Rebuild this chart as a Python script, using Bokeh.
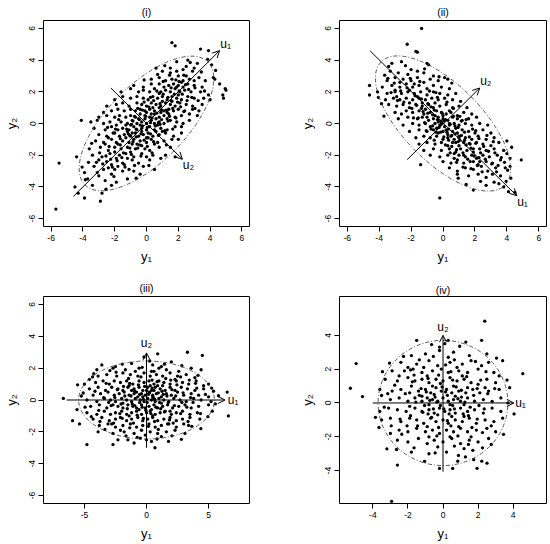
from bokeh.plotting import figure
from bokeh.layouts import gridplot
from bokeh.models import FixedTicker, Arrow, OpenHead
from bokeh.core.properties import value
from bokeh.embed import file_html
from bokeh.resources import INLINE

FONT = "Liberation Sans"

# ---------------- data ----------------
pts_i = [
(-4.5,-4.0),(-4.3,-4.4),(-3.9,-4.7),(-2.9,-4.9),(-2.8,-4.4),(-5.7,-5.4),(-2.2,-3.9),(-3.4,-3.9),
(-3.7,-3.5),(-2.6,-3.6),(-1.9,-3.7),(-1.2,-3.5),(-3.0,-3.3),
(-3.1,-3.1),(-2.2,-3.2),(-1.5,-3.0),(-0.8,-3.0),(-3.9,-3.1),(-2.7,-2.9),(-0.4,-3.2),
(-2.4,-2.8),(-1.8,-2.7),(-1.1,-2.9),(-3.3,-2.7),(-0.2,-2.7),(-2.0,-2.9),(0.5,-2.9),(-1.4,-2.6),
(-4.4,-2.1),(-5.5,-2.5),(-3.0,-2.3),(-2.5,-2.4),(-1.9,-2.2),(-1.5,-2.5),(-0.9,-2.3),(-0.5,-2.5),(0.2,-2.3),(0.9,-2.2),(-2.2,-2.6),(-1.2,-2.2),
(-3.4,-2.0),(-2.8,-2.1),(-2.3,-1.9),(-1.7,-2.0),(-1.3,-1.9),(-0.8,-2.1),(-0.3,-1.9),(0.4,-2.0),(1.2,-2.0),(1.8,-2.1),(-2.0,-1.8),(-1.0,-1.8),(0.0,-2.1),
(-3.6,-1.6),(-2.9,-1.5),(-2.4,-1.7),(-2.0,-1.5),(-1.6,-1.6),(-1.2,-1.5),(-0.7,-1.6),(-0.3,-1.4),(0.2,-1.7),(0.8,-1.5),(1.5,-1.5),(-1.8,-1.3),(-0.9,-1.3),(-0.1,-1.6),(0.5,-1.3),(-2.6,-1.3),
(-3.2,-1.1),(-2.7,-1.2),(-2.2,-1.0),(-1.9,-1.2),(-1.5,-1.1),(-1.1,-1.2),(-0.8,-1.0),(-0.4,-1.1),(0.0,-1.2),(0.3,-1.0),(0.7,-1.2),(1.1,-1.1),(1.6,-1.0),(2.0,-1.0),(-1.3,-0.9),(-0.6,-1.3),(0.1,-0.9),(-2.4,-0.9),
(-3.0,-0.7),(-2.5,-0.8),(-2.1,-0.6),(-1.7,-0.8),(-1.4,-0.7),(-1.0,-0.8),(-0.7,-0.6),(-0.5,-0.8),(-0.2,-0.7),(0.1,-0.6),(0.4,-0.8),(0.8,-0.7),(1.2,-0.6),(1.7,-0.8),(2.2,-0.6),(-1.2,-0.5),(-0.3,-0.5),(0.6,-0.5),(-0.9,-0.6),(0.0,-0.9),
(-3.3,-0.3),(-2.6,-0.4),(-2.2,-0.2),(-1.8,-0.4),(-1.5,-0.3),(-1.1,-0.4),(-0.8,-0.2),(-0.6,-0.4),(-0.3,-0.3),(0.0,-0.4),(0.2,-0.2),(0.5,-0.4),(0.9,-0.3),(1.3,-0.4),(1.8,-0.2),(2.2,-0.2),(-1.3,-0.1),(-0.4,-0.1),(0.7,-0.1),(1.0,-0.5),(-2.0,-0.6),
(-4.1,0.2),(-3.5,0.1),(-3.1,0.2),(-2.7,0.0),(-2.3,0.1),(-1.9,-0.1),(-1.6,0.1),(-1.2,0.0),(-0.9,0.2),(-0.6,0.0),(-0.3,0.1),(0.0,0.0),(0.3,0.2),(0.5,0.0),(0.8,0.1),(1.1,0.0),(1.5,0.2),(1.9,0.1),(2.3,0.0),(2.7,0.2),(-0.1,0.3),(0.6,0.3),(1.3,0.3),(-1.0,-0.1),
(-3.0,0.4),(-2.5,0.5),(-2.0,0.4),(-1.7,0.5),(-1.3,0.4),(-1.0,0.5),(-0.7,0.4),(-0.4,0.6),(-0.1,0.5),(0.2,0.4),(0.5,0.6),(0.8,0.4),(1.1,0.5),(1.4,0.6),(1.8,0.4),(2.2,0.5),(2.7,0.6),(3.2,0.5),(0.0,0.7),(0.9,0.7),(-0.5,0.3),
(-2.7,0.7),(-2.2,0.8),(-1.8,0.9),(-1.4,0.8),(-1.0,0.9),(-0.7,0.8),(-0.4,0.9),(-0.1,0.8),(0.2,0.9),(0.5,0.8),(0.8,1.0),(1.1,0.8),(1.4,0.9),(1.7,0.8),(2.0,0.9),(2.4,0.8),(2.9,0.9),(3.3,0.8),(0.3,0.6),(1.3,0.7),
(-2.5,1.1),(-1.9,1.2),(-1.5,1.3),(-1.1,1.1),(-0.6,1.3),(-0.3,1.2),(0.0,1.1),(0.3,1.3),(0.6,1.2),(0.9,1.1),(1.2,1.3),(1.5,1.2),(1.8,1.1),(2.1,1.3),(2.5,1.2),(2.9,1.1),(3.5,1.2),(0.4,1.0),(1.0,1.4),(1.6,1.4),
(-2.0,1.5),(-1.5,1.7),(-1.0,1.6),(-0.6,1.7),(-0.2,1.6),(0.1,1.5),(0.4,1.7),(0.7,1.6),(1.0,1.7),(1.3,1.5),(1.6,1.7),(1.9,1.6),(2.2,1.5),(2.6,1.7),(3.0,1.6),(3.6,1.6),(4.0,1.5),(2.0,1.8),(0.8,1.9),
(-1.6,2.0),(-1.0,2.2),(-0.5,2.0),(-0.2,2.1),(0.2,2.0),(0.5,2.2),(0.9,2.0),(1.2,2.1),(1.5,2.0),(1.8,2.2),(2.1,2.0),(2.4,2.1),(2.8,2.0),(3.4,2.0),(3.9,1.8),(4.85,1.6),(4.8,1.8),(1.9,2.3),
(-0.8,2.4),(-0.2,2.3),(0.3,2.5),(0.8,2.5),(1.1,2.3),(1.4,2.4),(1.7,2.5),(2.0,2.4),(2.3,2.3),(2.6,2.5),(3.0,2.4),(3.5,2.3),(4.95,2.2),(5.0,2.1),(4.6,2.5),(2.2,2.6),
(0.3,2.8),(0.8,2.9),(1.2,2.7),(1.6,2.8),(2.0,3.0),(2.3,2.7),(2.7,2.8),(3.0,2.7),(3.3,2.9),(3.7,2.7),(4.2,2.9),(4.3,2.8),(2.5,3.0),
(0.7,3.1),(1.0,3.3),(1.5,3.2),(1.9,3.3),(2.3,3.4),(2.9,3.3),(3.0,3.5),(0.6,3.5),(1.5,3.5),(2.5,3.6),
(3.2,3.8),(4.1,3.7),(1.9,3.9),(3.4,4.7),(3.9,4.6),(1.6,5.1),(1.8,4.9),(2.6,4.0),
]
pts_i_core = [
(-2.35,-1.45),(-1.85,-2.35),(-1.65,-0.95),(-1.45,-1.85),(-1.25,-0.35),(-1.05,-1.55),(-0.95,-0.05),(-0.85,-1.15),(-0.75,0.45),(-0.65,-0.85),
(-0.55,-1.55),(-0.45,0.25),(-0.35,-0.65),(-0.25,0.85),(-0.15,-1.05),(-0.05,0.45),(0.05,-0.25),(0.15,1.05),(0.25,-0.65),(0.35,0.35),
(0.45,1.45),(0.55,-0.15),(0.65,0.65),(0.75,-0.75),(0.85,1.25),(0.95,0.25),(1.05,1.85),(1.15,-0.45),(1.25,0.85),(1.35,1.65),
(1.45,0.45),(1.55,2.25),(1.65,0.95),(1.75,1.85),(1.85,0.35),(1.95,1.35),(2.05,2.65),(2.15,1.05),(2.25,1.85),(2.35,0.75),
(2.45,2.45),(2.55,1.45),(2.65,2.15),(2.85,1.65),(3.05,2.25),(3.25,1.45),(-2.55,-2.05),(-2.75,-2.55),(-2.95,-1.85),(-3.15,-2.45),
(-2.15,-2.75),(-1.95,-0.35),(-1.55,-2.15),(-1.35,-2.75),(-1.15,-0.65),(-0.95,-1.95),(-0.75,-2.65),(-0.55,0.95),(-0.35,-2.05),(-0.15,1.35),
(0.05,-1.45),(0.25,1.65),(0.45,-1.15),(0.65,2.05),(0.85,-0.05),(1.05,2.65),(1.25,-1.35),(1.45,3.05),(1.65,-0.35),(1.85,2.75),
(-3.45,-1.25),(-3.65,-2.45),(-2.05,-3.35),(-0.65,-3.45),(2.35,3.05),(3.45,3.25),(3.65,2.05),(3.05,0.95),(-1.75,0.25),(-2.45,-0.25),
(0.15,-2.65),(-0.15,2.75),(1.15,3.65),(2.75,3.85),(-4.05,-2.75),(-3.85,-3.55),(-2.55,-4.15),(4.35,3.35),(3.85,4.05),(0.35,-1.85),
(-0.45,-1.35),(0.75,0.05),(-0.85,0.15),(1.35,0.15),(-1.65,-1.35),(-2.25,-2.25),(2.05,2.05),(1.55,1.45),(0.95,0.85),(0.25,0.05),
(-0.25,-0.15),(-0.65,-0.35),(-1.05,-0.75),
]

pts_ii = [
(-1.34,6.0),(-2.24,5.0),(-1.7,4.55),(-1.6,4.5),(-3.2,3.8),(-1.0,3.8),(-0.9,3.7),(-2.6,3.9),(-3.4,3.6),
(-3.3,3.3),(-2.8,3.2),(-2.2,3.1),(-1.6,3.3),(-1.2,3.2),(-0.6,3.0),(-2.0,3.4),(0.1,2.9),
(-3.5,2.7),(-3.0,2.9),(-2.5,2.8),(-2.0,2.7),(-1.6,2.9),(-1.2,2.6),(-0.8,2.8),(-0.3,2.7),(0.3,2.8),(-1.8,2.5),(-2.7,2.6),
(-4.6,2.4),(-3.8,2.3),(-3.2,2.4),(-2.7,2.3),(-2.3,2.5),(-1.9,2.3),(-1.5,2.4),(-1.0,2.2),(-0.6,2.4),(-0.1,2.3),(0.4,2.2),(-3.0,2.1),(-2.1,2.1),
(-4.1,2.0),(-3.5,1.9),(-3.0,2.0),(-2.6,1.9),(-2.2,2.0),(-1.8,1.9),(-1.4,2.0),(-1.0,1.8),(-0.6,2.0),(-0.2,1.9),(0.3,1.8),(0.8,1.9),(-1.6,1.7),(-2.9,1.7),
(-4.6,1.8),(-3.6,1.5),(-3.1,1.6),(-2.7,1.5),(-2.3,1.6),(-1.9,1.5),(-1.5,1.6),(-1.1,1.5),(-0.7,1.6),(-0.3,1.5),(0.1,1.6),(0.6,1.5),(1.1,1.4),(-1.3,1.3),(-2.1,1.3),(-0.5,1.3),
(-3.4,1.2),(-2.9,1.1),(-2.5,1.2),(-2.1,1.0),(-1.7,1.2),(-1.3,1.1),(-0.9,1.2),(-0.6,1.0),(-0.2,1.1),(0.2,1.2),(0.6,1.0),(1.0,1.1),(1.5,1.0),(-1.1,0.9),(-0.4,0.8),(0.4,0.8),(-2.3,0.8),
(-3.0,0.7),(-2.6,0.6),(-1.9,0.7),(-1.5,0.8),(-1.2,0.6),(-0.8,0.7),(-0.5,0.5),(-0.1,0.7),(0.2,0.6),(0.5,0.7),(0.9,0.5),(1.3,0.7),(1.8,0.6),(-0.3,0.4),(0.0,0.5),(-1.0,0.4),
(-3.7,0.46),(-2.8,0.3),(-2.2,0.4),(-1.6,0.3),(-1.3,0.4),(-0.9,0.2),(-0.6,0.3),(-0.3,0.1),(0.0,0.3),(0.3,0.2),(0.6,0.4),(0.9,0.3),(1.2,0.2),(1.6,0.3),(2.1,0.4),(0.4,0.0),(-0.1,0.0),
(-2.5,-0.1),(-1.9,0.0),(-1.5,-0.1),(-1.1,0.0),(-0.8,-0.2),(-0.5,0.0),(-0.2,-0.1),(0.1,-0.2),(0.4,-0.1),(0.7,0.0),(1.0,-0.1),(1.4,0.0),(1.8,-0.1),(2.3,0.0),(2.8,-0.1),(0.2,-0.4),(0.8,-0.3),(-0.4,-0.3),
(-2.1,-0.5),(-1.5,-0.4),(-1.0,-0.5),(-0.6,-0.4),(-0.3,-0.6),(0.0,-0.5),(0.3,-0.7),(0.6,-0.5),(0.9,-0.6),(1.2,-0.4),(1.6,-0.5),(2.0,-0.6),(2.5,-0.4),(3.0,-0.6),(0.5,-0.8),(1.0,-0.9),
(-1.7,-0.9),(-1.2,-0.8),(-0.8,-0.9),(-0.4,-0.8),(0.0,-1.0),(0.3,-0.9),(0.7,-1.0),(1.0,-0.8),(1.4,-0.9),(1.8,-1.0),(2.2,-0.8),(2.7,-1.0),(3.2,-0.9),(4.0,-1.1),(0.8,-1.2),
(-1.5,-1.3),(-1.0,-1.2),(-0.5,-1.3),(-0.1,-1.2),(0.3,-1.4),(0.6,-1.2),(1.0,-1.4),(1.3,-1.2),(1.7,-1.3),(2.1,-1.2),(2.5,-1.3),(3.0,-1.4),(3.5,-1.2),(4.3,-1.5),(1.9,-1.6),
(-1.2,-1.7),(-0.6,-1.6),(-0.1,-1.7),(0.4,-1.6),(0.8,-1.8),(1.1,-1.6),(1.5,-1.7),(1.9,-1.8),(2.3,-1.6),(2.7,-1.7),(3.2,-1.6),(3.8,-1.7),(0.7,-1.9),(1.3,-2.0),
(-0.8,-2.0),(-0.2,-2.1),(0.3,-2.0),(0.7,-2.2),(1.0,-2.0),(1.4,-2.1),(1.8,-2.0),(2.1,-2.2),(2.5,-2.0),(2.9,-2.1),(3.4,-2.0),(4.0,-1.9),(1.9,-2.4),(2.3,-2.4),
(-1.4,-2.6),(0.0,-2.4),(0.5,-2.5),(0.9,-2.3),(1.3,-2.5),(1.7,-2.4),(2.2,-2.6),(2.7,-2.4),(3.1,-2.5),(3.6,-2.3),(4.9,-2.3),(4.2,-2.2),
(0.4,-2.8),(0.9,-3.0),(1.4,-2.8),(1.9,-2.9),(2.4,-2.7),(2.8,-3.0),(3.3,-2.8),(3.9,-2.8),(4.2,-2.7),
(0.9,-3.2),(1.6,-3.3),(2.2,-3.2),(2.7,-3.4),(3.1,-3.2),(3.6,-3.3),(3.2,-3.7),
(1.9,-4.2),(3.8,-4.0),(4.5,-4.35),(3.5,-3.8),(2.7,-3.9),(-0.2,-4.7),(4.1,-4.3),
]
pts_ii_core = [
(-2.45,1.35),(-2.25,2.25),(-1.95,0.95),(-1.75,1.75),(-1.55,0.35),(-1.35,1.55),(-1.15,0.05),(-0.95,1.25),(-0.75,-0.35),(-0.55,0.85),
(-0.35,1.65),(-0.25,-0.25),(-0.05,0.65),(0.05,-0.85),(0.15,0.25),(0.35,-1.05),(0.45,-0.05),(0.55,-1.45),(0.65,0.45),(0.75,-0.65),
(0.85,-1.65),(0.95,-0.25),(1.05,-1.05),(1.15,0.15),(1.25,-1.85),(1.35,-0.55),(1.45,-1.35),(1.55,-2.25),(1.65,-0.85),(1.75,-1.55),
(1.85,-0.35),(1.95,-2.05),(2.05,-1.25),(2.15,-2.65),(2.25,-0.95),(2.35,-1.85),(2.55,-1.45),(2.65,-2.25),(2.85,-1.75),(3.05,-2.55),
(3.25,-1.85),(3.45,-2.65),(3.65,-2.15),(-2.65,2.05),(-2.85,1.45),(-3.05,2.55),(-3.25,1.95),(-3.45,2.85),(-2.05,2.85),(-1.85,0.35),
(-1.45,2.65),(-1.25,0.75),(-0.85,2.05),(-0.65,-0.15),(-0.45,1.95),(-0.15,-0.55),(0.25,1.35),(0.45,-1.85),(0.65,0.95),(0.85,-2.45),
(1.05,0.45),(1.25,-2.75),(1.45,0.25),(1.75,-2.85),(2.05,-0.45),(2.45,-3.05),(2.75,-0.75),(3.15,-1.15),(3.35,-3.05),(3.85,-2.45),
(4.05,-2.95),(4.25,-3.45),(3.95,-3.65),(-3.85,1.25),(-3.65,3.05),(-4.05,1.65),(-2.35,3.65),(-1.15,3.45),(0.55,2.55),(-0.25,2.95),
(0.95,-3.45),(1.45,-3.85),(2.35,-3.65),(-0.55,-1.05),(-1.05,-0.45),(0.15,-1.35),(-0.95,0.65),(-0.35,0.25),(0.35,-0.35),(0.75,-0.15),
(-0.15,0.15),(0.55,-0.75),(-0.65,0.55),(-1.35,0.95),(1.15,-0.75),(0.95,-1.15),(-0.45,-0.55),(0.05,0.15),(-0.75,1.05),(0.25,-0.55),
(1.35,-1.05),(-1.65,1.15),(1.65,-1.25),(2.25,-2.15),
]

pts_iii = [
(0.9,2.9),(3.3,3.0),(4.5,2.8),(-0.2,2.7),
(-3.6,2.2),(-1.2,2.3),(0.5,2.2),(2.0,2.4),(-2.5,2.1),(1.2,2.1),
(-4.0,1.9),(-2.7,2.0),(-1.7,1.9),(-0.6,2.0),(0.4,1.8),(1.0,2.0),(1.6,1.9),(2.6,1.8),(3.6,2.0),(4.4,1.9),
(-4.6,1.3),(-4.35,1.45),(-3.9,1.5),(-3.2,1.6),(-2.4,1.5),(-1.9,1.7),(-1.3,1.6),(-0.7,1.5),(-0.2,1.7),(0.3,1.5),(0.8,1.6),(1.3,1.5),(1.9,1.7),(2.5,1.5),(3.2,1.6),(3.9,1.4),(-0.9,1.8),(0.6,1.8),(2.3,1.3),
(-5.0,1.0),(-4.1,1.1),(-3.5,1.2),(-3.0,1.0),(-2.6,1.2),(-2.1,1.1),(-1.6,1.2),(-1.1,1.0),(-0.6,1.2),(-0.2,1.1),(0.2,1.2),(0.6,1.0),(1.0,1.2),(1.4,1.1),(1.9,1.0),(2.4,1.2),(2.9,1.1),(3.4,1.0),(4.0,1.2),(5.0,1.0),(4.6,0.9),(-1.4,0.9),(0.9,0.9),
(-4.6,0.7),(-3.9,0.8),(-3.3,0.6),(-2.8,0.8),(-2.3,0.7),(-1.9,0.6),(-1.5,0.8),(-1.0,0.7),(-0.6,0.8),(-0.3,0.6),(0.1,0.8),(0.4,0.6),(0.7,0.8),(1.1,0.7),(1.5,0.6),(1.9,0.8),(2.3,0.6),(2.8,0.8),(3.3,0.7),(3.9,0.6),(4.6,0.7),(5.4,0.55),(0.3,0.9),(-0.8,0.5),(1.3,0.9),
(-5.1,0.44),(-4.3,0.3),(-3.7,0.4),(-3.1,0.5),(-2.6,0.3),(-2.2,0.4),(-1.8,0.5),(-1.4,0.3),(-1.0,0.4),(-0.7,0.2),(-0.4,0.4),(-0.1,0.3),(0.2,0.5),(0.5,0.3),(0.8,0.4),(1.2,0.2),(1.6,0.4),(2.0,0.3),(2.5,0.5),(3.0,0.3),(3.6,0.4),(4.2,0.3),(5.0,0.2),(5.8,0.27),(6.5,0.5),(0.0,0.6),(0.6,0.6),(-1.2,0.6),
(-6.7,0.1),(-4.8,0.0),(-4.0,-0.1),(-3.4,0.1),(-2.9,0.0),(-2.5,-0.1),(-2.0,0.1),(-1.6,0.0),(-1.2,-0.1),(-0.9,0.1),(-0.5,0.0),(-0.2,-0.1),(0.1,0.1),(0.4,0.0),(0.7,-0.1),(1.0,0.1),(1.4,0.0),(1.8,-0.1),(2.2,0.1),(2.7,0.0),(3.2,-0.1),(3.8,0.1),(4.4,0.0),(5.2,-0.1),(-0.3,0.2),(0.5,0.2),(-1.9,-0.2),(1.2,-0.2),
(-5.6,-0.6),(-4.5,-0.4),(-3.8,-0.3),(-3.2,-0.5),(-2.7,-0.3),(-2.3,-0.4),(-1.9,-0.5),(-1.5,-0.3),(-1.1,-0.4),(-0.8,-0.5),(-0.4,-0.3),(-0.1,-0.5),(0.2,-0.4),(0.6,-0.3),(0.9,-0.5),(1.3,-0.4),(1.7,-0.3),(2.1,-0.5),(2.6,-0.4),(3.1,-0.3),(3.6,-0.5),(4.2,-0.4),(5.0,-0.3),(0.4,-0.6),(-0.6,-0.6),(1.9,-0.7),
(-4.8,-0.8),(-4.0,-0.9),(-3.4,-0.7),(-2.9,-0.9),(-2.5,-0.8),(-2.0,-0.7),(-1.6,-0.9),(-1.2,-0.8),(-0.8,-0.7),(-0.4,-0.9),(0.0,-0.8),(0.3,-0.7),(0.7,-0.9),(1.1,-0.8),(1.5,-0.7),(2.0,-0.9),(2.4,-0.8),(2.9,-0.7),(3.5,-0.9),(4.1,-0.8),(5.3,-0.7),(-1.4,-1.0),(0.5,-1.0),
(-5.96,-1.3),(-4.3,-1.2),(-3.6,-1.1),(-3.0,-1.3),(-2.5,-1.2),(-2.1,-1.1),(-1.6,-1.3),(-1.2,-1.2),(-0.7,-1.1),(-0.3,-1.3),(0.1,-1.2),(0.5,-1.1),(0.9,-1.3),(1.4,-1.2),(1.9,-1.1),(2.4,-1.3),(2.9,-1.2),(3.5,-1.1),(4.3,-1.2),(6.6,-1.0),(-2.8,-1.5),(1.7,-1.5),
(-5.4,-1.5),(-3.8,-1.6),(-3.1,-1.5),(-2.5,-1.7),(-1.9,-1.6),(-1.3,-1.5),(-0.8,-1.7),(-0.3,-1.6),(0.2,-1.5),(0.7,-1.7),(1.2,-1.6),(1.8,-1.5),(2.4,-1.7),(3.39,-1.6),(4.38,-1.8),(3.0,-1.5),(-2.1,-1.9),
(-3.9,-2.0),(-2.7,-2.1),(-1.8,-2.0),(-1.0,-2.1),(-0.4,-1.9),(0.3,-2.0),(0.9,-2.1),(1.6,-2.0),(2.3,-1.9),(3.1,-2.1),(-0.1,-2.2),(1.2,-2.3),
(-4.8,-2.8),(-2.7,-2.8),(-2.3,-2.5),(-1.5,-2.5),(-0.5,-2.4),(0.0,-2.5),(0.68,-3.0),(1.77,-2.6),(2.81,-2.47),(-1.0,-2.7),(0.4,-2.6),
]
pts_iii_core = [
(-3.45,0.15),(-2.85,-0.35),(-2.35,0.65),(-2.15,-0.85),(-1.75,0.25),(-1.55,-0.55),(-1.35,1.05),(-1.15,-0.25),(-0.95,0.55),(-0.75,-0.95),
(-0.55,0.35),(-0.35,-0.45),(-0.15,0.85),(0.05,-0.15),(0.25,0.45),(0.35,-0.85),(0.55,0.15),(0.75,-0.45),(0.85,1.15),(1.05,-0.15),
(1.25,0.55),(1.45,-0.75),(1.65,0.25),(1.85,-1.25),(2.05,0.65),(2.25,-0.35),(2.45,0.95),(2.75,-0.85),(2.95,0.45),(3.25,-0.45),
(3.45,1.25),(3.75,-0.15),(4.05,0.75),(4.35,-0.85),(4.75,0.35),(-4.15,0.55),(-3.85,-0.65),(-3.25,1.05),(-2.65,-1.45),(-2.45,1.75),
(-1.95,-1.15),(-1.45,1.35),(-1.05,-1.45),(-0.45,1.45),(0.15,-1.65),(0.45,1.25),(0.95,-1.85),(1.55,1.35),(2.15,-1.45),(2.75,1.45),
(3.35,-1.35),(3.95,1.05),(-4.45,-1.05),(-5.25,0.25),(-4.95,-0.45),(5.55,-0.25),(4.95,-1.05),(-0.25,0.05),(0.15,0.35),(-0.55,-0.15),
(0.65,0.05),(-0.95,-0.35),(1.35,0.35),(-1.85,0.85),(1.15,-0.55),(-0.05,-0.65),(0.45,0.75),(-0.65,0.95),(0.95,0.45),(-1.25,0.25),
(1.75,-0.15),(-2.05,-0.25),(2.35,0.25),(-2.55,0.15),(2.85,-0.15),(-3.05,-0.15),(3.55,0.15),(-0.35,2.05),(0.25,2.45),(1.45,2.25),
(-1.95,2.25),(2.85,2.15),(-2.95,1.85),(-0.75,-2.35),(0.85,-2.45),(-1.65,-2.25),(2.05,-2.25),(-3.35,-1.85),(3.65,-1.65),(-4.25,1.65),
(-3.75,-1.35),(4.15,1.55),(5.25,0.75),(-5.55,0.95),(0.65,-1.35),(-0.25,-1.15),(1.95,1.25),(-1.35,-1.75),
]

pts_iv = [
(2.38,4.83),(-1.5,3.7),(1.3,3.6),(2.2,3.7),(0.3,3.7),(-0.2,3.3),(0.1,3.5),
(-1.0,2.9),(-0.2,3.1),(0.6,3.0),(1.5,2.8),(-1.8,2.8),(0.3,2.7),(2.5,2.9),(3.4,2.5),
(-4.95,2.33),(-2.4,2.4),(-1.5,2.3),(-0.8,2.5),(-0.3,2.2),(0.4,2.4),(1.1,2.3),(1.6,2.5),(2.2,2.2),(2.6,2.4),(-2.0,2.1),(0.8,2.1),(-1.1,2.1),
(-2.9,1.9),(-2.2,1.9),(-1.7,2.0),(-1.2,1.8),(-0.6,1.9),(-0.1,2.0),(0.3,1.8),(0.9,1.9),(1.4,1.8),(2.0,2.0),(2.9,1.8),(3.2,1.6),(4.55,1.73),(-0.9,1.6),(1.1,1.6),(-2.5,1.6),
(-3.3,1.4),(-2.6,1.3),(-2.0,1.5),(-1.6,1.3),(-1.2,1.4),(-0.8,1.2),(-0.4,1.4),(0.0,1.3),(0.4,1.5),(0.8,1.3),(1.2,1.4),(1.6,1.2),(2.0,1.1),(2.5,1.4),(3.0,1.2),(-1.8,1.0),(-0.6,1.0),(0.6,1.0),(1.4,0.9),(2.4,0.9),
(-5.28,0.87),(-3.6,0.8),(-2.9,0.7),(-2.4,0.8),(-1.9,0.6),(-1.4,0.7),(-1.0,0.8),(-0.7,0.6),(-0.4,0.9),(-0.1,0.7),(0.2,0.8),(0.5,0.6),(0.9,0.7),(1.3,0.6),(1.7,0.8),(2.1,0.6),(2.6,0.7),(3.2,0.8),(3.8,0.9),(-0.5,0.5),(-1.2,0.4),(0.7,0.4),
(-4.59,0.38),(-3.5,0.44),(-3.0,0.2),(-2.5,0.3),(-2.0,0.1),(-1.6,0.3),(-1.2,0.1),(-0.9,0.3),(-0.6,0.2),(-0.3,0.1),(0.0,0.3),(0.3,0.1),(0.6,0.2),(1.0,0.1),(1.4,0.3),(1.8,0.1),(2.3,0.2),(2.8,0.1),(3.3,0.3),(3.7,0.0),(-0.8,-0.1),(0.4,-0.1),(1.2,-0.1),(-1.9,-0.2),
(-3.6,-0.5),(-3.1,-0.3),(-2.6,-0.4),(-2.1,-0.5),(-1.6,-0.3),(-1.2,-0.5),(-0.8,-0.4),(-0.5,-0.6),(-0.2,-0.3),(0.1,-0.5),(0.4,-0.4),(0.7,-0.6),(1.0,-0.3),(1.4,-0.5),(1.8,-0.4),(2.3,-0.6),(2.8,-0.3),(3.3,-0.5),(-0.3,-0.7),(0.5,-0.8),(1.2,-0.8),
(-3.5,-1.0),(-3.0,-0.9),(-2.4,-1.1),(-1.9,-0.9),(-1.5,-1.0),(-1.1,-1.2),(-0.7,-0.9),(-0.4,-1.1),(0.0,-1.0),(0.3,-1.2),(0.7,-1.0),(1.1,-1.1),(1.5,-0.9),(1.9,-1.2),(2.4,-1.0),(2.9,-1.1),(3.4,-0.9),(-0.9,-1.4),(0.9,-1.4),
(-3.0,-1.8),(-2.5,-1.6),(-2.0,-1.7),(-1.5,-1.5),(-1.0,-1.7),(-0.6,-1.6),(-0.2,-1.8),(0.2,-1.6),(0.6,-1.7),(1.0,-1.5),(1.4,-1.7),(1.9,-1.6),(2.5,-1.5),(3.0,-1.7),(-0.8,-2.0),(0.4,-2.0),(1.6,-2.0),
(-2.6,-2.2),(-2.0,-2.3),(-1.4,-2.1),(-0.9,-2.4),(-0.5,-2.2),(0.0,-2.3),(0.5,-2.1),(1.0,-2.4),(1.5,-2.2),(2.0,-2.3),(2.6,-2.1),(-0.3,-2.6),(1.2,-2.7),
(-3.2,-2.71),(-2.6,-3.67),(-0.2,-3.87),(0.55,-3.87),(1.94,-3.86),(2.51,-3.56),(2.21,-3.44),(0.88,-3.1),(1.28,-3.19),(0.84,-3.44),(-1.8,-2.9),(-0.8,-3.0),(0.2,-2.9),(1.7,-2.8),(-2.93,-5.81),
]
pts_iv_core = [
(-2.15,0.55),(-1.85,-0.75),(-1.65,1.65),(-1.45,-1.35),(-1.25,0.85),(-1.05,-0.15),(-0.85,1.45),(-0.65,-0.85),(-0.45,0.35),(-0.25,-1.45),
(-0.15,1.15),(0.05,-0.35),(0.15,0.65),(0.25,-1.05),(0.45,1.85),(0.55,-0.15),(0.75,0.95),(0.85,-1.95),(1.05,0.35),(1.15,-0.65),
(1.35,1.55),(1.55,-0.25),(1.75,0.45),(1.95,-0.95),(2.15,1.35),(2.35,-0.35),(2.55,0.55),(2.75,-1.35),(2.95,0.85),(-2.45,-0.95),
(-2.75,1.05),(-2.95,-1.35),(-3.15,0.55),(-3.35,-0.25),(-2.25,2.75),(-1.35,2.55),(-0.55,2.75),(0.65,2.55),(1.85,2.45),(-1.65,-2.65),
(-0.45,-2.95),(0.65,-2.55),(1.45,-2.45),(2.25,-2.65),(-3.45,1.85),(3.45,-1.85),(-3.65,-1.45),(3.65,1.35),(-0.35,0.05),(0.35,-0.65),
(-0.75,0.15),(0.85,0.25),(-1.15,-0.55),(1.25,0.05),(-0.05,0.95),(-0.95,0.65),(0.55,1.35),(-1.55,0.05),(1.65,-1.45),(-2.05,-1.35),
(2.05,-0.15),(-0.35,-1.95),(0.15,2.25),(-1.75,1.25),(1.95,0.85),(-2.65,-2.75),(2.75,-2.45),(-3.05,2.35),(3.05,2.65),(-0.65,3.45),
(0.95,3.35),(-1.05,-3.45),(1.75,-3.35),(-3.85,-0.85),(4.05,-0.65),(-0.15,-0.15),(0.25,0.45),(-0.55,-0.35),(0.65,-0.35),(-0.85,-0.65),
(1.05,0.75),(-1.35,0.45),(0.45,-1.35),(-0.25,1.65),(1.45,-0.75),(-1.85,1.95),(2.45,1.85),(-2.35,-1.85),(2.25,-1.75),
]

# 95% ellipse: (semi-axis along u1, semi-axis along u2, angle in degrees)
ellipse_i = (5.47, 2.45, 45)
ellipse_ii = (5.47, 2.45, -45)
ellipse_iii = (5.47, 2.45, 0)
ellipse_iv = (3.7, 3.7, 0)

# principal axes: (x_start, y_start, x_end, y_end)
axes_i = [(-4.6, -4.6, 4.6, 4.6), (-2.24, 2.24, 2.26, -2.26)]
axes_ii = [(-4.56, 4.58, 4.62, -4.56), (-2.24, -2.28, 2.3, 2.24)]
axes_iii = [(-6.43, 0, 6.33, 0), (0, -3.0, 0, 2.96)]
axes_iv = [(-4.0, 0, 4.04, 0), (0, -4.06, 0, 4.0)]

labels_i = [(4.98, 5.02, "u\u2081"), (2.64, -2.62, "u\u2082")]
labels_ii = [(4.98, -4.98, "u\u2081"), (2.68, 2.66, "u\u2082")]
labels_iii = [(6.98, 0.0, "u\u2081"), (0.0, 3.6, "u\u2082")]
labels_iv = [(4.42, 0.0, "u\u2081"), (0.0, 4.5, "u\u2082")]

titles = ["(i)", "(ii)", "(iii)", "(iv)"]
ticks_6 = [-6, -4, -2, 0, 2, 4, 6]
ticks_5 = [-5, 0, 5]
ticks_4 = [-4, -2, 0, 2, 4]


def panel(title, pts, ell, axes, labels, xr, yr, xticks, yticks,
          w, h, bl, br, bt, bb, title_standoff=6):
    p = figure(width=w, height=h, x_range=xr, y_range=yr,
               output_backend="svg", toolbar_location=None,
               min_border_left=bl, min_border_right=br,
               min_border_top=bt, min_border_bottom=bb)
    p.background_fill_color = "white"
    p.border_fill_color = "white"
    p.outline_line_color = "black"
    p.outline_line_width = 1
    p.xgrid.visible = False
    p.ygrid.visible = False

    p.title.text = title
    p.title.align = "center"
    p.title.text_font = FONT
    p.title.text_font_style = "normal"
    p.title.text_font_size = "10.5px"
    p.title.text_color = "#000000"
    p.title.standoff = title_standoff

    for ax, tk, lab in ((p.xaxis[0], xticks, "y\u2081"), (p.yaxis[0], yticks, "y\u2082")):
        ax.ticker = FixedTicker(ticks=tk, minor_ticks=[])
        ax.major_label_overrides = {t: str(t) for t in tk}
        ax.axis_line_color = None
        ax.major_tick_in = 0
        ax.major_tick_out = 5
        ax.major_tick_line_color = "black"
        ax.minor_tick_line_color = None
        ax.major_label_text_font = FONT
        ax.major_label_text_font_size = "8.5px"
        ax.major_label_text_color = "#000000"
        ax.major_label_standoff = 3
        ax.axis_label = lab
        ax.axis_label_text_font = FONT
        ax.axis_label_text_font_style = "normal"
        ax.axis_label_text_font_size = "13px"
        ax.axis_label_text_color = "#000000"
    p.xaxis[0].axis_label_standoff = 5
    p.yaxis[0].axis_label_standoff = 8
    p.yaxis[0].major_label_orientation = "vertical"

    xs = [q[0] for q in pts]
    ys = [q[1] for q in pts]
    p.scatter(xs, ys, size=3.3, marker="circle", fill_color="#000000",
              line_color=None)

    a, b, ang = ell
    p.ellipse(x=[0], y=[0], width=[2 * a], height=[2 * b], angle=[ang],
              angle_units="deg", fill_color=None, line_color="#444444",
              line_width=0.9, line_dash="1 2 4 2")

    for (x0, y0, x1, y1) in axes:
        p.add_layout(Arrow(end=OpenHead(size=7, line_width=1, line_color="#000000"),
                           x_start=x0, y_start=y0, x_end=x1, y_end=y1,
                           line_color="#000000", line_width=1))

    p.text(x=[l[0] for l in labels], y=[l[1] for l in labels],
           text=[l[2] for l in labels], text_font=value(FONT),
           text_font_size="12px", text_align="center",
           text_baseline="middle", text_color="#000000")
    return p


p1 = panel(titles[0], pts_i + pts_i_core, ellipse_i, axes_i, labels_i,
           (-6.48, 6.48), (-6.5, 6.5), ticks_6, ticks_6,
           275, 272, 43, 26, 19, 46)
p2 = panel(titles[1], pts_ii + pts_ii_core, ellipse_ii, axes_ii, labels_ii,
           (-6.48, 6.48), (-6.5, 6.5), ticks_6, ticks_6,
           274, 272, 64, 3, 19, 46)
p3 = panel(titles[2], pts_iii + pts_iii_core, ellipse_iii, axes_iii, labels_iii,
           (-8.3, 8.3), (-6.5, 6.5), ticks_5, ticks_6,
           275, 271, 43, 26, 24, 40)
p4 = panel(titles[3], pts_iv + pts_iv_core, ellipse_iv, axes_iv, labels_iv,
           (-5.9, 5.9), (-5.94, 6.29), ticks_4, ticks_4,
           274, 271, 64, 3, 19, 40, title_standoff=2)

grid = gridplot([[p1, p2], [p3, p4]], toolbar_location=None)

open("out.html", "w").write(file_html(grid, INLINE))
